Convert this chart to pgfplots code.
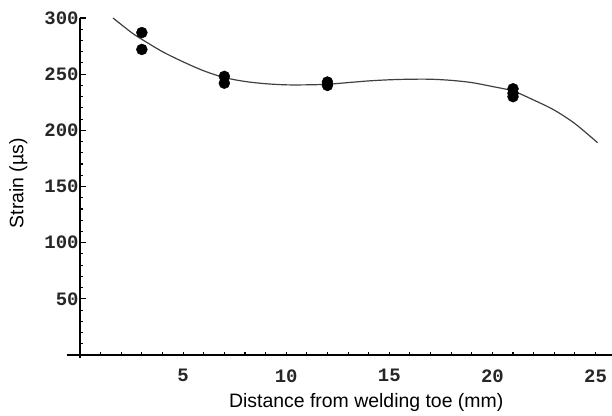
\documentclass[border=0pt]{standalone}
\usepackage{fontspec}
\setmainfont{Liberation Sans}
\newfontfamily\tickfont{Liberation Mono}
\usepackage{pgfplots}
\pgfplotsset{compat=1.18}

\begin{document}
\begin{tikzpicture}
\begin{axis}[
  name=ax,
  scale only axis, width=532bp, height=337bp,
  axis lines=left,
  axis line style={draw=none},
  xmin=0, xmax=25.8, ymin=0, ymax=300,
  xtick={5,10,15,20,25}, ytick={50,100,150,200,250,300},
  major tick length=0pt, minor tick length=0pt,
  ticklabel style={font=\tickfont\bfseries\fontsize{19}{19}\selectfont, color=black!85},
  xticklabel style={yshift=-11bp},
  yticklabel style={xshift=2bp},
  /pgf/number format/assume math mode=true,
  xlabel={Distance from welding toe (mm)},
  ylabel={Strain (µs)},
  x label style={at={(axis description cs:0.538,-0.14)}, anchor=center, font=\fontsize{19.5}{22}\selectfont},
  y label style={at={(axis description cs:-0.116,0.51)}, anchor=center, font=\fontsize{19.5}{22}\selectfont},
  clip=false,
]
% axes and ticks
\draw[line width=2.4bp, black] (axis cs:-0.65,0) -- (axis cs:25.8,0);
\draw[line width=2.4bp, black] (axis cs:0,-2.5) -- (axis cs:0,300);
\pgfplotsinvokeforeach{1,...,25}{\draw[line width=1.1bp, black] (axis cs:#1,0) -- ++(0bp,3.5bp);}
\pgfplotsinvokeforeach{10,20,...,300}{\draw[line width=1.1bp, black] (axis cs:0,#1) -- ++(3.5bp,0bp);}
\pgfplotsinvokeforeach{50,100,...,300}{\draw[line width=1.1bp, black] (axis cs:0,#1) -- ++(6.5bp,0bp);}
% fitted curve
\addplot[smooth, line width=1.2bp, black!75] coordinates {
 (1.6,300) (2.5,287) (3,281) (4,270) (5,261) (6,253) (7,247) (8,243.5)
 (9,241.5) (10,240.5) (11,240.5) (12,241) (13,242.5) (14,244) (15,245)
 (16,245.5) (17,245.5) (18,244.5) (19,242.5) (20,239) (21,235) (22,227)
 (23,218) (24,206) (25.1,189)
};
% measured points
\addplot[only marks, mark=*, mark size=5.5bp, black] coordinates {
 (3,287) (3,272) (7,248) (7,242) (12,243) (12,240) (21,237) (21,233) (21,230)
};
\end{axis}
\pgfresetboundingbox
\path[use as bounding box] ([xshift=-80bp,yshift=-61bp]ax.south west) rectangle ([yshift=18bp]ax.north east);
\end{tikzpicture}
\end{document}
